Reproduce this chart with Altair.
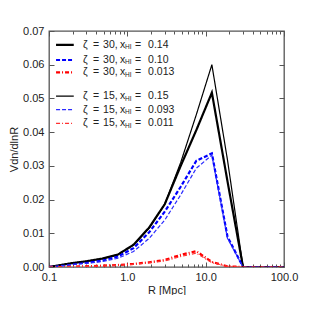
import altair as alt
import pandas as pd

# ---- data ----
R = [0.1, 0.19, 0.30, 0.48, 0.76, 1.2, 1.9, 3.0, 4.8, 7.6, 12, 19, 30, 48, 76, 100]
z30_x014 = [0, 0.0011, 0.0017, 0.0025, 0.0037, 0.0066, 0.0117, 0.0186, 0.0300, 0.0406, 0.0517, 0.0254, 0, 0, 0, 0]
z30_x010 = [0, 0.0008, 0.0013, 0.0019, 0.0031, 0.0056, 0.0103, 0.0164, 0.0238, 0.0315, 0.0337, 0.0090, 0, 0, 0, 0]
z30_x0013 = [0, 0.0001, 0.0002, 0.0004, 0.0006, 0.0009, 0.0014, 0.0021, 0.0036, 0.0047, 0.0015, 0.0002, 0, 0, 0, 0]
z15_x015 = [0, 0.0011, 0.0017, 0.0025, 0.0037, 0.0065, 0.0115, 0.0186, 0.0310, 0.0452, 0.0600, 0.0317, 0, 0, 0, 0]
z15_x0093 = [0, 0.0007, 0.0011, 0.0016, 0.0026, 0.0046, 0.0085, 0.0139, 0.0214, 0.0293, 0.0332, 0.0085, 0, 0, 0, 0]
z15_x0011 = [0, 0.0001, 0.0002, 0.0003, 0.0005, 0.0008, 0.0012, 0.0018, 0.0031, 0.0041, 0.0013, 0.0002, 0, 0, 0, 0]

series_ids = ["s1", "s2", "s3", "s4", "s5", "s6"]
series_vals = [z30_x014, z30_x010, z30_x0013, z15_x015, z15_x0093, z15_x0011]
zeta_labels = ["30", "30", "30", "15", "15", "15"]
xhi_labels = ["0.14", "0.10", "0.013", "0.15", "0.093", "0.011"]
legend_y = [0.0659, 0.0614, 0.0577, 0.0507, 0.0467, 0.0426]
legend_x1, legend_x2, legend_tx = 0.123, 0.207, 0.272

x_major = [0.1, 1, 10, 100]
x_minor = [0.2, 0.3, 0.4, 0.5, 0.6, 0.7, 0.8, 0.9,
           2, 3, 4, 5, 6, 7, 8, 9, 20, 30, 40, 50, 60, 70, 80, 90]
y_major = [0.0, 0.01, 0.02, 0.03, 0.04, 0.05, 0.06, 0.07]

colors = ["#000000", "#0000ff", "#ff0000", "#000000", "#2a2aff", "#ff3030"]
dashes = [[1, 0], [4, 2], [4, 2, 1, 2], [1, 0], [4, 2], [4, 2, 1, 2]]
widths = [2.2, 2.2, 2.2, 1.2, 1.2, 1.2]

rows = []
for sid, vals in zip(series_ids, series_vals):
    for r, v in zip(R, vals):
        rows.append({"R": r, "v": v, "series": sid})
df = pd.DataFrame(rows)

leg = pd.DataFrame({
    "series": series_ids,
    "x1": [legend_x1] * 6,
    "x2": [legend_x2] * 6,
    "tx": [legend_tx] * 6,
    "y": legend_y,
    "zeta": [z + "," for z in zeta_labels],
    "xhi": xhi_labels,
})

W, H = 235, 236
FONT = "Liberation Sans"
TC = "#555555"
LC = "#222222"

xscale = alt.Scale(type="log", domain=[0.1, 100], nice=False)
yscale = alt.Scale(domain=[0, 0.07], nice=False, zero=True)

major_test = "abs(log(datum.value)/LN10 - round(log(datum.value)/LN10)) < 0.001"
tsize = {"condition": {"test": major_test, "value": 5}, "value": 3}

x_lab = alt.X("R:Q", scale=xscale, axis=alt.Axis(
    orient="bottom", values=x_major, format=".1f", ticks=False, tickSize=0,
    domain=False, grid=False, labelPadding=4, labelFlush=False,
    labelFontSize=11, labelFont=FONT, labelColor=LC,
    title="R [Mpc]", titleFont=FONT, titleFontSize=11,
    titleFontWeight="normal", titleColor=LC, titlePadding=2))
y_lab = alt.Y("v:Q", scale=yscale, axis=alt.Axis(
    orient="left", values=y_major, format=".2f", ticks=False, tickSize=0,
    domain=False, grid=False, labelPadding=5, labelFlush=False,
    labelFontSize=11, labelFont=FONT, labelColor=LC,
    title="Vdn/dlnR", titleFont=FONT, titleFontSize=11,
    titleFontWeight="normal", titleColor=LC, titlePadding=3))
x_none = alt.X("R:Q", scale=xscale, axis=None)
y_none = alt.Y("v:Q", scale=yscale, axis=None)

layers = []
for i, sid in enumerate(series_ids):
    layers.append(
        alt.Chart(df).transform_filter(alt.datum.series == sid).mark_line(
            clip=True, stroke=colors[i], color=colors[i], strokeOpacity=1,
            strokeDash=dashes[i], strokeWidth=widths[i]
        ).encode(x=x_lab if i == 0 else x_none, y=y_lab if i == 0 else y_none)
    )


def tick_axis(orient, vals, size):
    return alt.Axis(orient=orient, offset=-(H if orient in ("top", "bottom") else W),
                    values=vals, labels=False, domain=False, grid=False,
                    ticks=True, tickSize=size, tickColor=TC, tickWidth=1, title=None)


layers.append(alt.Chart(df).mark_point(opacity=0).encode(
    x=alt.X("R:Q", scale=xscale, axis=tick_axis("top", x_major + x_minor, tsize)),
    y=alt.Y("v:Q", scale=yscale, axis=tick_axis("right", y_major, 5)),
))
layers.append(alt.Chart(df).mark_point(opacity=0).encode(
    x=alt.X("R:Q", scale=xscale, axis=tick_axis("bottom", x_major + x_minor, tsize)),
    y=alt.Y("v:Q", scale=yscale, axis=tick_axis("left", y_major, 5)),
))

for i, sid in enumerate(series_ids):
    layers.append(
        alt.Chart(leg).transform_filter(alt.datum.series == sid).mark_rule(
            stroke=colors[i], color=colors[i], strokeOpacity=1,
            strokeDash=dashes[i], strokeWidth=widths[i]
        ).encode(
            x=alt.X("x1:Q", scale=xscale, axis=None),
            x2="x2:Q",
            y=alt.Y("y:Q", scale=yscale, axis=None),
        )
    )

txt_kw = dict(font=FONT, color=LC, align="left", baseline="middle")
# (constant text, field, dx, dy, fontSize)
pieces = [
    ("ζ", None, 0, 0, 10.5),
    ("=", None, 10, 0, 10.5),
    (None, "zeta", 20, 0, 10.5),
    ("x", None, 37, 0, 10.5),
    ("HI", None, 42, 2.5, 6.5),
    ("=", None, 52, 0, 10.5),
    (None, "xhi", 65, 0, 10.5),
]
for const, field, dx, dy, fs in pieces:
    enc = dict(
        x=alt.X("tx:Q", scale=xscale, axis=None),
        y=alt.Y("y:Q", scale=yscale, axis=None),
    )
    enc["text"] = alt.value(const) if field is None else alt.Text(field + ":N")
    layers.append(
        alt.Chart(leg).mark_text(fontSize=fs, dx=dx, dy=dy, **txt_kw).encode(**enc)
    )

chart = alt.layer(*layers).resolve_axis(
    x="independent", y="independent"
).properties(
    width=W, height=H,
    padding={"left": 0, "top": 17, "right": 5, "bottom": 0},
).configure_view(
    stroke="#555555", strokeWidth=1.3
)

chart.save("out.html", embed_options={"renderer": "svg", "actions": False})
